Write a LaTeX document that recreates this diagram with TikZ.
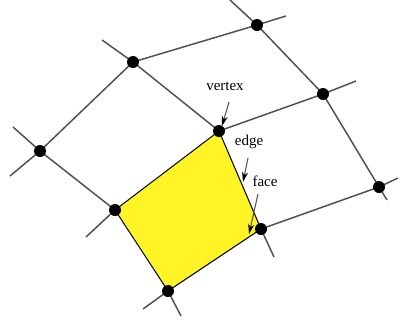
\documentclass[tikz,border=0pt]{standalone}
\usepackage{fontspec}
\setmainfont{Liberation Serif}
\usetikzlibrary{arrows.meta}
\begin{document}
\begin{tikzpicture}[x=1pt,y=-1pt,
  edgeline/.style={draw=black!68,line width=1.5pt},
  dot/.style={circle,fill=black,inner sep=0pt,minimum size=12pt},
  lbl/.style={font=\fontsize{15}{17}\selectfont,inner sep=0pt},
  ptr/.style={draw=black!65,line width=1.1pt,-{Stealth[length=10pt,width=6pt,inset=3pt,black]}}]
\useasboundingbox (0,0) rectangle (407,322);
% vertices
\coordinate (A) at (257,25);
\coordinate (B) at (133,62);
\coordinate (C) at (323,94);
\coordinate (D) at (219,131);
\coordinate (E) at (40,151);
\coordinate (F) at (379,187);
\coordinate (G) at (115,210);
\coordinate (H) at (261,229);
\coordinate (I) at (168,291);
% stubs
\coordinate (a1) at (230,0);
\coordinate (a2) at (286,16);
\coordinate (b1) at (102,40);
\coordinate (e1) at (13,127);
\coordinate (e2) at (10,176);
\coordinate (c1) at (356,81);
\coordinate (f1) at (398,178);
\coordinate (f2) at (387,200);
\coordinate (h1) at (274,257);
\coordinate (g1) at (86,237);
\coordinate (i1) at (143,309);
\coordinate (i2) at (181,316);
% face
\fill[yellow!85!white] (D) -- (H) -- (I) -- (G) -- cycle;
% edges
\path[edgeline] (a1) -- (A) -- (a2);
\path[edgeline] (A) -- (B) -- (b1);
\path[edgeline] (A) -- (C) -- (c1);
\path[edgeline] (B) -- (E);
\path[edgeline] (B) -- (D) -- (C);
\path[edgeline] (e1) -- (E) -- (e2);
\path[edgeline] (E) -- (G) -- (g1);
\path[edgeline] (C) -- (F) -- (f1);
\path[edgeline] (F) -- (f2);
\path[edgeline] (F) -- (H) -- (h1);
\path[edgeline] (I) -- (i1);
\path[edgeline] (I) -- (i2);
\draw[black,line width=1pt] (D) -- (H) -- (I) -- (G) -- cycle;
% dots
\foreach \p in {A,B,C,D,E,F,G,H,I} \node[dot] (n\p) at (\p) {};
% labels
\node[lbl] (lv) at (225,86) {vertex};
\node[lbl] (le) at (249,142) {edge};
\node[lbl] (lf) at (265,181) {face};
\coordinate (v0) at (229,102);
\coordinate (v1) at (222,126);
\coordinate (e0) at (248,158);
\coordinate (e1t) at (243,182);
\coordinate (f0) at (258,194);
\coordinate (f1t) at (249,234);
\path[ptr] (v0) -- (v1);
\path[ptr] (e0) -- (e1t);
\path[ptr] (f0) -- (f1t);
\end{tikzpicture}
\end{document}
